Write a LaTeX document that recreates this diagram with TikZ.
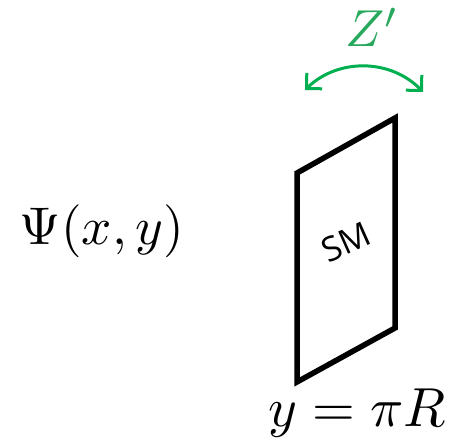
\documentclass[tikz,border=0pt]{standalone}
\usepackage{fontspec}
\newfontfamily\smfont{Open Sans}
\usetikzlibrary{arrows.meta}
\definecolor{zgreen}{RGB}{40,168,92}
\definecolor{agreen}{RGB}{0,176,80}

\begin{document}
\begin{tikzpicture}[x=1pt, y=1pt, every node/.style={inner sep=0pt}]

    \useasboundingbox (0,0) rectangle (456,444);

    % field
    \node[anchor=base, scale=5.3] (psi) at (102,199) {$\Psi(x,y)$};

    % brane
    \coordinate (bl) at (297,62);
    \coordinate (tl) at (297,271);
    \coordinate (tr) at (395,326);
    \coordinate (br) at (395,116);
    \draw[line width=5.5pt] (bl) -- (tl) -- (tr) -- (br) -- cycle;
    \node[font=\smfont\fontsize{34}{38}\selectfont, rotate=24] (sm) at (346,202) {SM};

    % position
    \node[anchor=base, scale=5.5] (pos) at (357,17) {$y=\pi R$};

    % Z'
    \coordinate (zl) at (305,354);
    \coordinate (zr) at (423,352);
    \draw[agreen, line width=3pt, {Straight Barb[length=11pt,width=22pt]}-{Straight Barb[length=11pt,width=22pt]}] (zl) to[bend left=45] (zr);
    \node[anchor=base, scale=5.2, text=zgreen] (zp) at (372,397) {$Z'$};

\end{tikzpicture}
\end{document}
